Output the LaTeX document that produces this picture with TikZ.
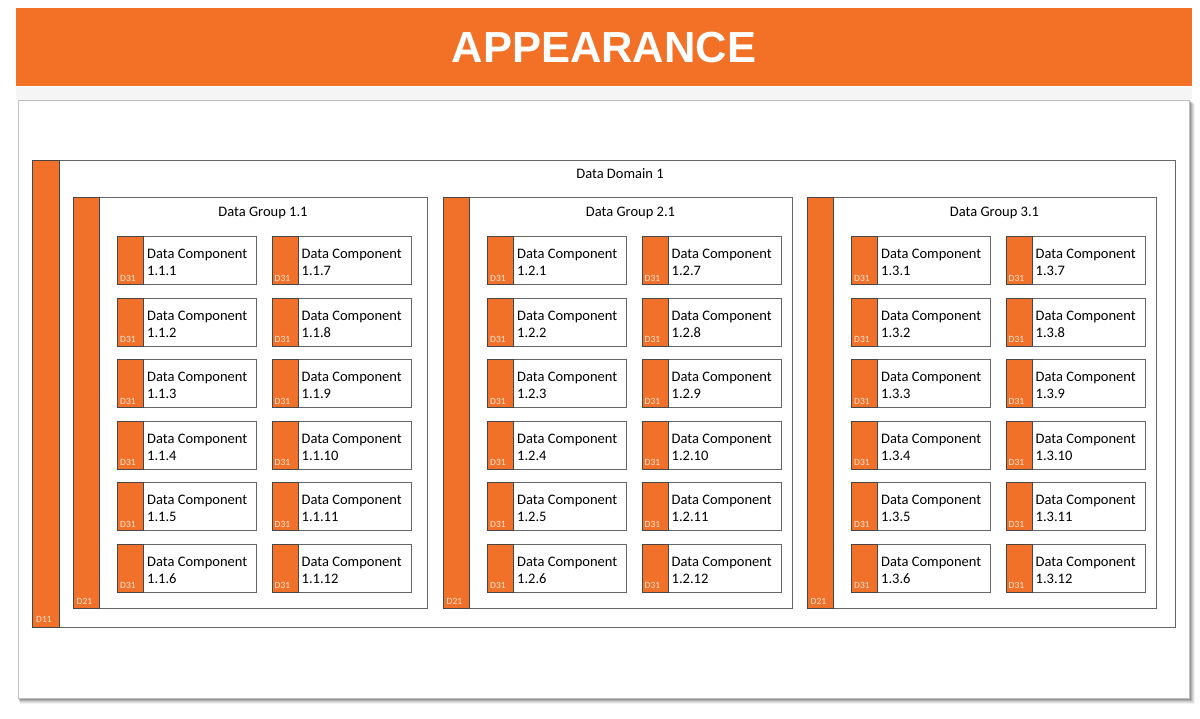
\documentclass[tikz,border=0pt]{standalone}
\usepackage{fontspec}
\setmainfont{Carlito}
\newfontfamily\titlefont{Liberation Sans}
\usetikzlibrary{positioning}
\definecolor{org}{HTML}{F2712A}
\definecolor{orgtitle}{HTML}{F37027}
\definecolor{bord}{HTML}{666666}
\definecolor{lbl}{HTML}{FFE6D2}
\tikzset{
  box/.style={draw=bord, line width=1pt, fill=white, inner sep=0pt, outer sep=0pt, anchor=north west},
  strip/.style={draw=bord!70!black, line width=1pt, fill=org, inner sep=0pt, outer sep=0pt, anchor=north west},
  comptxt/.style={font=\fontsize{14.5}{17}\selectfont, text=black, inner sep=0pt, anchor=base west},
  grptxt/.style={font=\fontsize{14.5}{17}\selectfont, text=black, inner sep=0pt, anchor=base},
  idtxt/.style={font=\fontsize{9.5}{10}\selectfont, text=lbl, inner sep=0pt, anchor=base west},
}
\newcommand\mycomp[4]{%
  \node[box, minimum width=139pt, minimum height=48pt] (c#1) at (#2,#3) {};
  \node[strip, minimum width=26pt, minimum height=48pt] (c#1s) at (#2,#3) {};
  \node[idtxt] (c#1l) at (#2+2.5,#3+44.5) {D31};
  \node[comptxt] (c#1a) at (#2+29.5,#3+22) {Data Component};
  \node[comptxt] (c#1b) at (#2+29.5,#3+39) {#4};
}
\begin{document}
\begin{tikzpicture}[x=1pt,y=-1pt]
\useasboundingbox (0,0) rectangle (1200,719);
\fill[white] (0,0) rectangle (1200,719);
% title bar
\node[fill=orgtitle, minimum width=1176pt, minimum height=78pt, inner sep=0pt, anchor=north west] (titlebar) at (16,8) {};
\node[font=\titlefont\bfseries\fontsize{43.5}{44}\selectfont, text=white, inner sep=0pt, anchor=base] (title) at (604,63) {APPEARANCE};
\fill[black!4] (16,87) rectangle (1192,100);
% panel with shadow
\foreach \d/\o in {6/0.05,5/0.07,4/0.09,3/0.12,2/0.16,1/0.2} {
  \fill[black, opacity=\o] (18+\d*0.3,100+\d*0.6) rectangle (1189+\d,698+\d);
}
\node[draw=black!25, line width=0.8pt, fill=white, minimum width=1171pt, minimum height=598pt, inner sep=0pt, anchor=north west] (panel) at (18,100) {};
% domain
\node[box, minimum width=1116pt, minimum height=466pt] (domain) at (59,161) {};
\node[strip, minimum width=27pt, minimum height=466pt] (domains) at (32,161) {};
\node[idtxt] (domainl) at (36,622) {D11};
\node[grptxt] (domaint) at (620,179) {Data Domain 1};
% groups
\foreach \g/\gx/\gw in {1/73/328, 2/443/323, 3/807/323} {
  \node[box, minimum width=\gw pt, minimum height=410pt] (g\g) at (\gx+26,198) {};
  \node[strip, minimum width=26pt, minimum height=410pt] (g\g s) at (\gx,198) {};
  \node[idtxt] (g\g l) at (\gx+3.5,604) {D21};
  \pgfmathsetmacro\gc{\gx+26+\gw/2}
  \node[grptxt] (g\g t) at (\gc,217) {Data Group \g.1};
  \foreach \r in {1,...,6} {
    \pgfmathsetmacro\ry{237+61.4*(\r-1)}
    \pgfmathtruncatemacro\rb{\r+6}
    \mycomp{\g-\r}{\gx+44.5}{\ry}{1.\g.\r}
    \mycomp{\g-\rb}{\gx+199}{\ry}{1.\g.\rb}
  }
}
\end{tikzpicture}
\end{document}
